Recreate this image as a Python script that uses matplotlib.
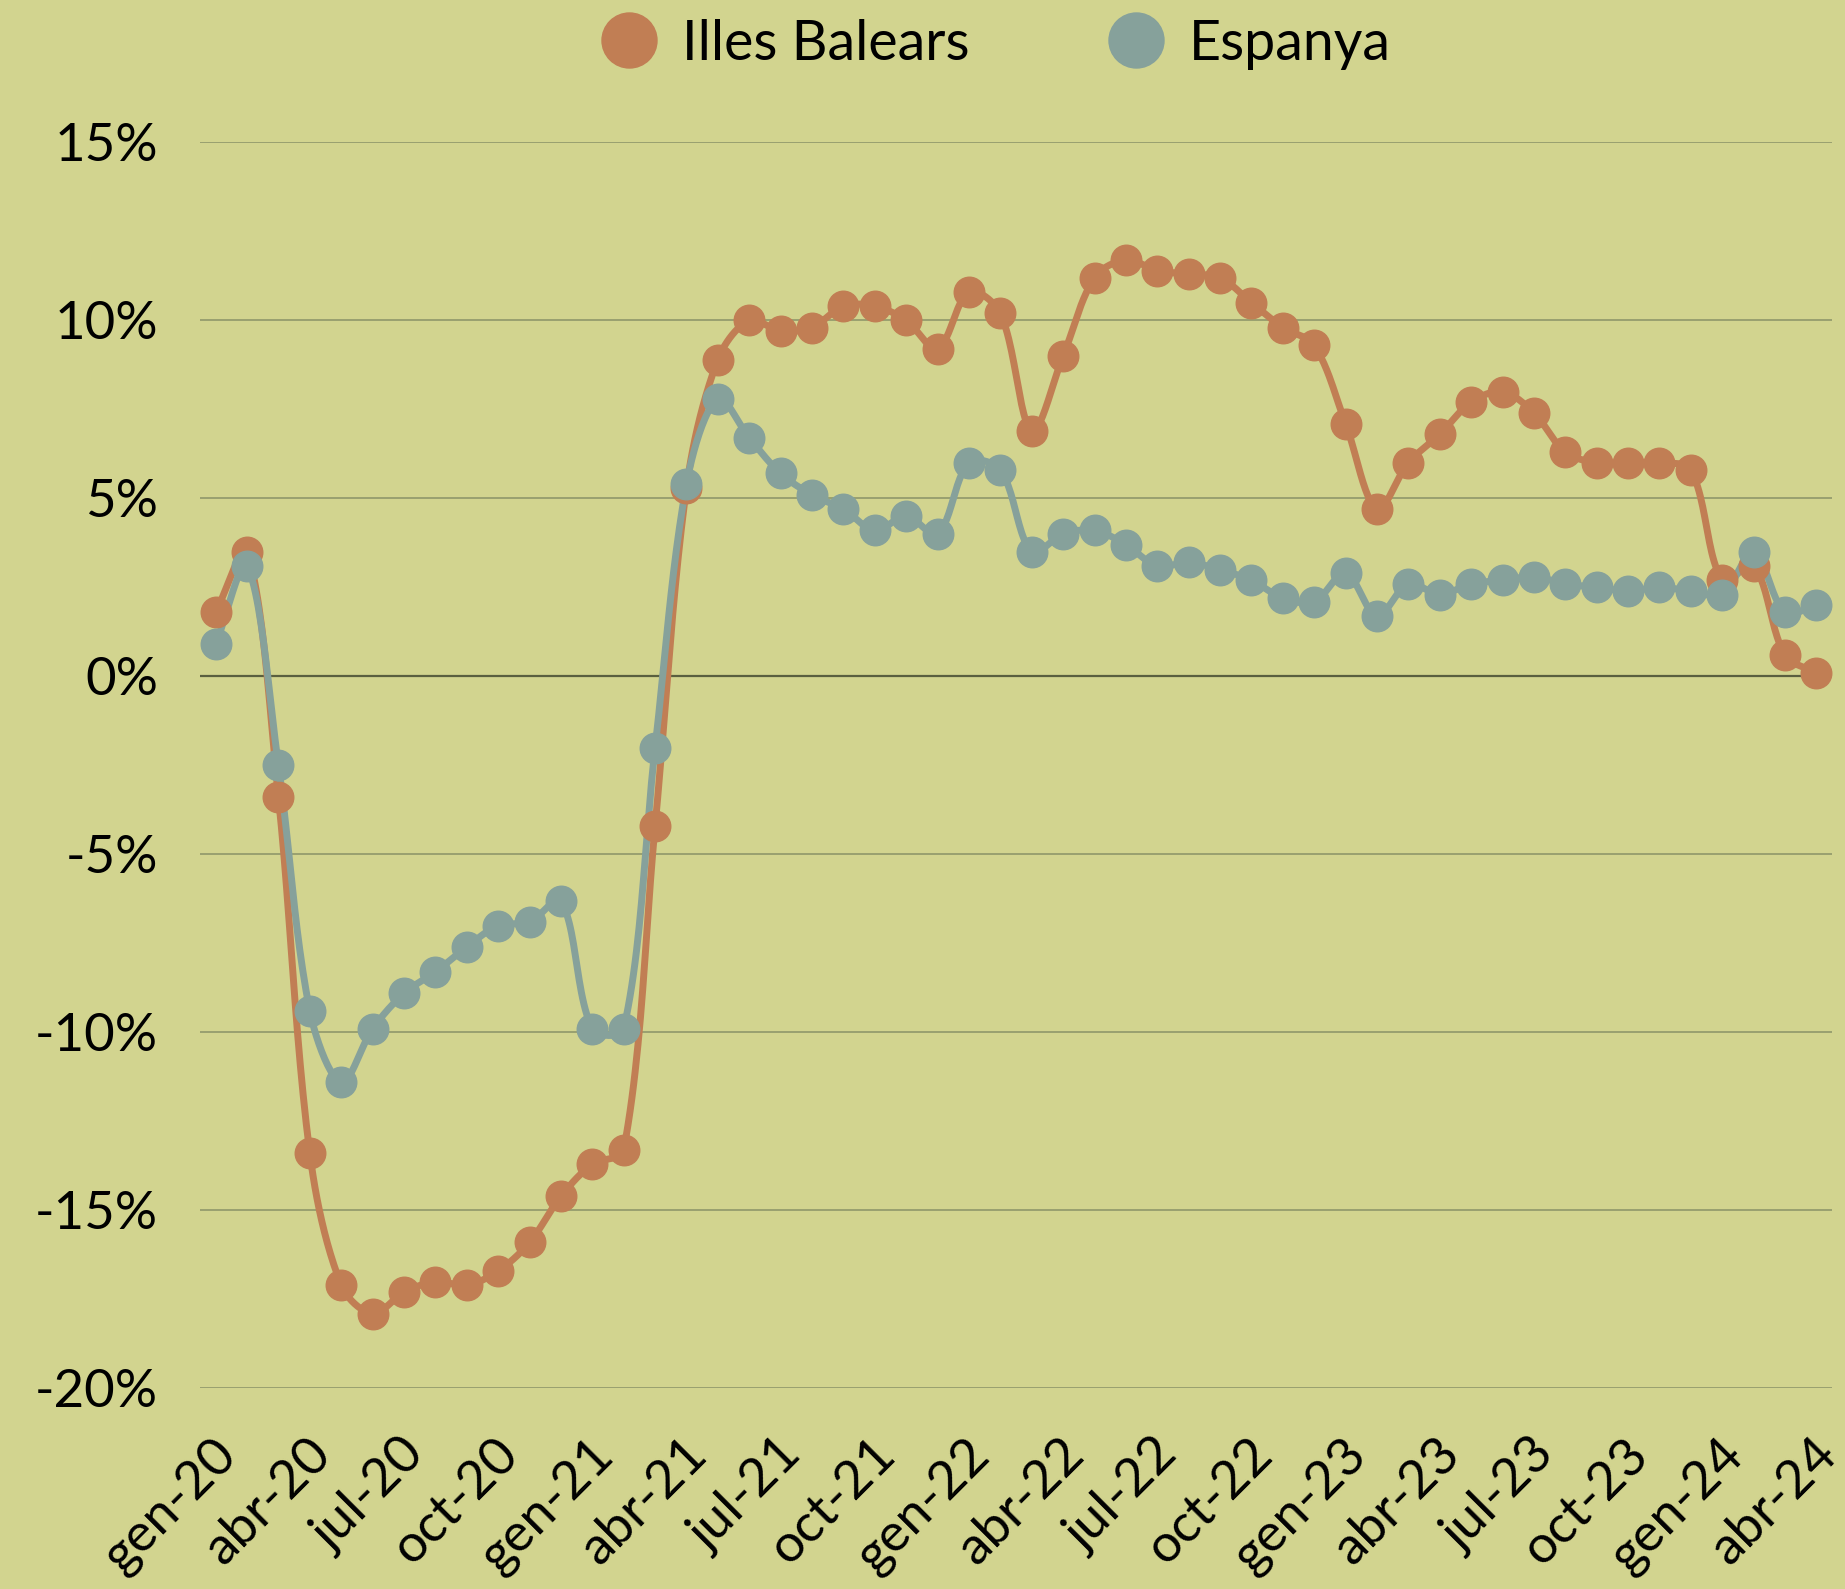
import numpy as np
import matplotlib
matplotlib.use("Agg")
from matplotlib import pyplot as plt
from matplotlib import transforms

# monthly values, gen-20 .. abr-24 (% change)
months = ['gen', 'feb', 'mar', 'abr', 'mai', 'jun', 'jul', 'ago', 'set', 'oct', 'nov', 'des']
years = ['20', '21', '22', '23', '24']
labels = [m + '-' + y for y in years for m in months][:52]

balears = [1.8, 3.5, -3.4, -13.4, -17.1, -17.9, -17.3, -17.0, -17.1, -16.7, -15.9, -14.6,
           -13.7, -13.3, -4.2, 5.3, 8.9, 10.0, 9.7, 9.8, 10.4, 10.4, 10.0, 9.2,
           10.8, 10.2, 6.9, 9.0, 11.2, 11.7, 11.4, 11.3, 11.2, 10.5, 9.8, 9.3,
           7.1, 4.7, 6.0, 6.8, 7.7, 8.0, 7.4, 6.3, 6.0, 6.0, 6.0, 5.8,
           2.7, 3.1, 0.6, 0.1]
espanya = [0.9, 3.1, -2.5, -9.4, -11.4, -9.9, -8.9, -8.3, -7.6, -7.0, -6.9, -6.3,
           -9.9, -9.9, -2.0, 5.4, 7.8, 6.7, 5.7, 5.1, 4.7, 4.1, 4.5, 4.0,
           6.0, 5.8, 3.5, 4.0, 4.1, 3.7, 3.1, 3.2, 3.0, 2.7, 2.2, 2.1,
           2.9, 1.7, 2.6, 2.3, 2.6, 2.7, 2.8, 2.6, 2.5, 2.4, 2.5, 2.4,
           2.3, 3.5, 1.8, 2.0]

yticks = [15, 10, 5, 0, -5, -10, -15, -20]

bg = '#D2D48F'
c_bal = '#C17E54'
c_esp = '#86A19B'

plt.rcParams['font.family'] = ['Lato', 'DejaVu Sans']


def smooth(y, sx=31.4, sy=35.6, n=24):
    # bezier smoothing like excel: tangents scaled by the on-screen segment lengths
    y = np.asarray(y, dtype=float)
    P = np.column_stack([np.arange(len(y)) * sx, y * sy])
    N = len(P)
    d = np.hypot(*np.diff(P, axis=0).T)
    out = []
    for i in range(N - 1):
        p1, p2 = P[i], P[i + 1]
        if i > 0:
            t1 = (P[i + 1] - P[i - 1]) * d[i] / (d[i - 1] + d[i]) / 3
        else:
            t1 = (p2 - p1) / 3
        if i + 2 < N:
            t2 = (P[i + 2] - P[i]) * d[i] / (d[i] + d[i + 1]) / 3
        else:
            t2 = (p2 - p1) / 3
        c1, c2 = p1 + t1, p2 - t2
        t = np.linspace(0, 1, n, endpoint=False)[:, None]
        out.append((1 - t) ** 3 * p1 + 3 * (1 - t) ** 2 * t * c1 + 3 * (1 - t) * t ** 2 * c2 + t ** 3 * p2)
    out.append(P[-1:])
    out = np.vstack(out)
    return out[:, 0] / sx, out[:, 1] / sy


fig = plt.figure(figsize=(18.45, 15.89), dpi=100, facecolor=bg)
ax = fig.add_axes([0.1084, 0.1262, 0.8846, 0.7842], facecolor=bg)

for v in yticks:
    ax.axhline(v, color='#5A5F3F' if v == 0 else '#99A070', lw=1.6 if v == 0 else 1.4, zorder=1)

x = np.arange(len(balears))
for vals, col, name in [(balears, c_bal, 'Illes Balears'), (espanya, c_esp, 'Espanya')]:
    sx, sy = smooth(vals)
    ax.plot(sx, sy, color=col, lw=5, zorder=2, solid_capstyle='round')
    ax.plot(x, vals, 'o', color=col, ms=22, zorder=3, label=name)

ax.set_xlim(-0.5, len(balears) - 0.5)
ax.set_ylim(-20, 15)
ax.tick_params(axis='both', length=0)
ax.tick_params(axis='y', pad=30)
ax.tick_params(axis='x', pad=42)
ax.set_yticks(yticks)
ax.set_yticklabels([f'{v}%' for v in yticks], fontsize=38)
ax.set_xticks(x[::3])
ax.set_xticklabels(labels[::3], fontsize=38, rotation=45, ha='right', va='center',
                   rotation_mode='anchor')
# shift rotated labels a bit to the right (after tick_params, which resets transforms)
off = transforms.ScaledTranslation(0.13, 0, fig.dpi_scale_trans)
for lab in ax.get_xticklabels():
    lab.set_transform(lab.get_transform() + off)
for s in ax.spines.values():
    s.set_visible(False)

ax.legend(loc='center', bbox_to_anchor=(0.540, 0.9723), bbox_transform=fig.transFigure,
          ncol=2, frameon=False, fontsize=40, markerscale=1.8, handletextpad=0.45,
          columnspacing=2.5, handlelength=1.0, borderpad=0)

fig.savefig('out.png', dpi=100, facecolor=bg)
